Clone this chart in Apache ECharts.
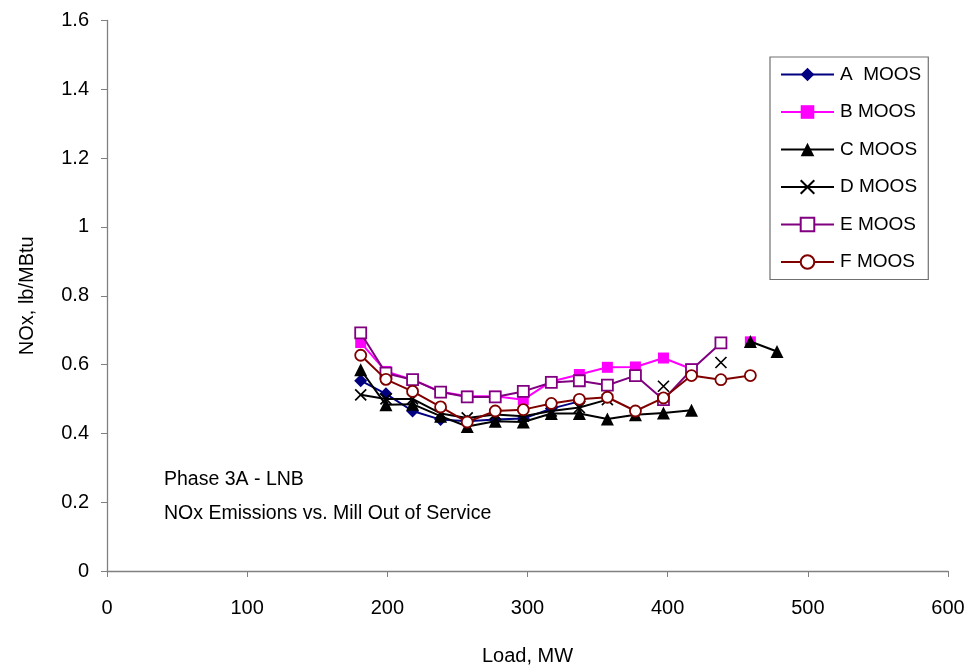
<!DOCTYPE html>
<html>
<head>
<meta charset="utf-8">
<script src="https://cdn.jsdelivr.net/npm/echarts@6/dist/echarts.min.js"></script>
<style>
  html, body { margin: 0; padding: 0; background: #fff; }
  #chart { width: 971px; height: 671px; }
</style>
</head>
<body>
<div id="chart"></div>
<script>
// Unit load (MW) at each test point; null in a series means no reading there
const loads = [181, 199, 218, 238, 257, 277, 297, 317, 337, 357, 377, 397, 417, 438, 459, 478];

// NOx emission rate, lb/MBtu, per mill out of service
const noxA = [0.553, 0.515, 0.465, 0.440, 0.435, 0.440, 0.443, 0.472, 0.493, null, null, null, null, null, null, null];
const noxB = [0.664, 0.580, 0.556, 0.521, 0.508, 0.508, 0.498, 0.551, 0.571, 0.592, 0.593, 0.619, 0.587, null, 0.666, null];
const noxC = [0.585, 0.483, 0.485, 0.450, 0.420, 0.435, 0.433, 0.458, 0.458, 0.442, 0.454, 0.459, 0.467, null, 0.667, 0.638];
const noxD = [0.512, 0.500, 0.500, 0.458, 0.445, 0.455, 0.450, 0.465, 0.475, 0.498, null, 0.537, null, 0.606, null, null];
const noxE = [0.692, 0.575, 0.556, 0.520, 0.506, 0.506, 0.522, 0.548, 0.553, 0.540, 0.568, 0.498, 0.585, 0.663, null, null];
const noxF = [0.627, 0.557, 0.522, 0.477, 0.433, 0.465, 0.469, 0.487, 0.499, 0.505, 0.465, 0.503, 0.568, 0.556, 0.568, null];

const seriesNames = ['A  MOOS', 'B MOOS', 'C MOOS', 'D MOOS', 'E MOOS', 'F MOOS'];
const noteLines = ['Phase 3A - LNB', 'NOx Emissions vs. Mill Out of Service'];

const FONT = '"Liberation Sans", Arial, sans-serif';
const crossPath = 'path://M0,0L10,10M10,0L0,10';

function pairs(values) {
  return loads.map((x, i) => values[i] == null ? [x, '-'] : [x, values[i]]);
}

const styles = [
  { data: noxA, color: '#000080', symbol: 'diamond', size: 13, fill: '#000080', border: 0 },
  { data: noxB, color: '#FF00FF', symbol: 'rect', size: 11, fill: '#FF00FF', border: 0 },
  { data: noxC, color: '#000000', symbol: 'triangle', size: 13, fill: '#000000', border: 0 },
  { data: noxD, color: '#000000', symbol: crossPath, size: 11, fill: 'none', border: 1.7 },
  { data: noxE, color: '#800080', symbol: 'rect', size: 11, fill: '#ffffff', border: 1.8 },
  { data: noxF, color: '#800000', symbol: 'circle', size: 11, fill: '#ffffff', border: 1.8 }
];

const series = styles.map((s, i) => ({
  name: seriesNames[i],
  type: 'line',
  data: pairs(s.data),
  symbol: s.symbol,
  symbolSize: s.size,
  showAllSymbol: true,
  connectNulls: false,
  lineStyle: { color: s.color, width: 2 },
  itemStyle: { color: s.fill, borderColor: s.color, borderWidth: s.border },
  emphasis: { disabled: true },
  z: 2 + i
}));

const chart = echarts.init(document.getElementById('chart'), null, { renderer: 'canvas' });
chart.setOption({
  animation: false,
  backgroundColor: '#ffffff',
  textStyle: { fontFamily: FONT },
  grid: { left: 107, right: 23, top: 20.5, bottom: 99.5, containLabel: false },
  xAxis: {
    type: 'value', min: 0, max: 600, interval: 100,
    name: 'Load, MW', nameLocation: 'middle', nameGap: 75,
    nameTextStyle: { fontSize: 20, color: '#000', fontFamily: FONT },
    axisLine: { show: true, lineStyle: { color: '#808080', width: 1.3 } },
    axisTick: { show: true, length: 6, lineStyle: { color: '#808080' } },
    axisLabel: { fontSize: 20, color: '#000', margin: 27, fontFamily: FONT },
    splitLine: { show: false }
  },
  yAxis: {
    type: 'value', min: 0, max: 1.6, interval: 0.2,
    name: 'NOx, lb/MBtu', nameLocation: 'middle', nameGap: 70, nameRotate: 90,
    nameTextStyle: { fontSize: 20, color: '#000', fontFamily: FONT },
    axisLine: { show: true, lineStyle: { color: '#808080', width: 1.3 } },
    axisTick: { show: true, length: 6, lineStyle: { color: '#808080' } },
    axisLabel: { fontSize: 20, color: '#000', margin: 18, fontFamily: FONT },
    splitLine: { show: false }
  },
  legend: {
    orient: 'vertical',
    left: 770, top: 57,
    padding: [8, 7, 8, 10],
    itemWidth: 53, itemHeight: 17,
    itemGap: 18.5,
    borderColor: '#707070', borderWidth: 1.2,
    textStyle: { fontSize: 19, color: '#000', fontFamily: FONT, padding: [0, 0, 0, 1] },
    data: seriesNames,
    selectedMode: false
  },
  graphic: noteLines.map((t, i) => ({
    type: 'text', left: 164, top: 470 + i * 34,
    style: { text: t, fontSize: 19.5, fill: '#000', fontFamily: FONT }
  })),
  series: series
});
</script>
</body>
</html>
